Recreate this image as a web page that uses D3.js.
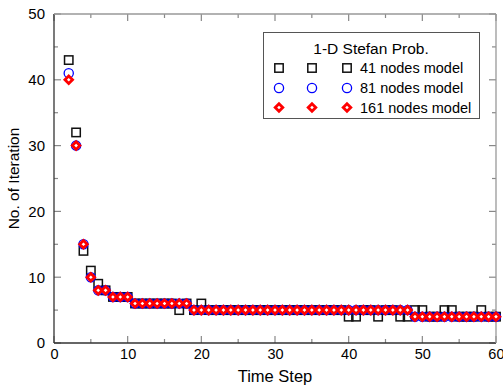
<!DOCTYPE html>
<html><head><meta charset="utf-8">
<script src="https://cdn.jsdelivr.net/npm/d3@7"></script>
<style>body{margin:0;background:#fff}svg{display:block}text{font-family:"Liberation Sans",Arial,sans-serif}</style>
</head><body><svg id="c" width="503" height="387"></svg>
<script>
const steps = [2,3,4,5,6,7,8,9,10,11,12,13,14,15,16,17,18,19,20,21,22,23,24,25,26,27,28,29,30,31,32,33,34,35,36,37,38,39,40,41,42,43,44,45,46,47,48,49,50,51,52,53,54,55,56,57,58,59,60];
const nodes41 = [43,32,14,11,9,8,7,7,7,6,6,6,6,6,6,5,6,5,6,5,5,5,5,5,5,5,5,5,5,5,5,5,5,5,5,5,5,5,4,4,5,5,4,5,5,4,4,5,5,4,4,5,5,4,4,4,5,4,4];
const nodes81 = [41,30,15,10,8,8,7,7,7,6,6,6,6,6,6,6,6,5,5,5,5,5,5,5,5,5,5,5,5,5,5,5,5,5,5,5,5,5,5,5,5,5,5,5,5,5,5,4,4,4,4,4,4,4,4,4,4,4,4];
const nodes161 = [40,30,15,10,8,8,7,7,7,6,6,6,6,6,6,6,6,5,5,5,5,5,5,5,5,5,5,5,5,5,5,5,5,5,5,5,5,5,5,5,5,5,5,5,5,5,5,4,4,4,4,4,4,4,4,4,4,4,4];
const xTicks = [0,10,20,30,40,50,60];
const yTicks = [0,10,20,30,40,50];
const legendTitle = "1-D Stefan Prob.";
const legendLabels = ["41 nodes model","81 nodes model","161 nodes model"];

const svg = d3.select("#c");
const L=54, R=496, T=14, B=343;
const x = d3.scaleLinear().domain([0,60]).range([L,R]);
const y = d3.scaleLinear().domain([0,50]).range([B,T]);

const gx = svg.append("g").attr("transform",`translate(0,${B})`)
  .call(d3.axisBottom(x).tickValues(xTicks).tickSize(0).tickPadding(6));
gx.select(".domain").remove();
gx.selectAll("text").attr("font-size",14.5).attr("fill","#000").attr("font-family","Liberation Sans, Arial, sans-serif");
gx.selectAll(".tick").filter(d=>d===60).select("text").attr("text-anchor","end").attr("dx",8);
const gy = svg.append("g").attr("transform",`translate(${L},0)`)
  .call(d3.axisLeft(y).tickValues(yTicks).tickSize(0).tickPadding(9));
gy.select(".domain").remove();
gy.selectAll("text").attr("font-size",15).attr("fill","#000").attr("font-family","Liberation Sans, Arial, sans-serif");

const tk = svg.append("g").attr("stroke","#888").attr("stroke-width",1.2);
x.ticks(12).forEach(v=>{
  const len = v%10===0?7:4;
  tk.append("line").attr("x1",x(v)).attr("x2",x(v)).attr("y1",B).attr("y2",B-len);
  tk.append("line").attr("x1",x(v)).attr("x2",x(v)).attr("y1",T).attr("y2",T+len);
});
y.ticks(10).forEach(v=>{
  const len = v%10===0?7:4;
  tk.append("line").attr("y1",y(v)).attr("y2",y(v)).attr("x1",L).attr("x2",L+len);
  tk.append("line").attr("y1",y(v)).attr("y2",y(v)).attr("x1",R).attr("x2",R-len);
});
svg.append("line").attr("x1",L).attr("x2",L).attr("y1",T).attr("y2",B).attr("stroke","#333").attr("stroke-width",1.3);
svg.append("line").attr("x1",L).attr("x2",R).attr("y1",B).attr("y2",B).attr("stroke","#333").attr("stroke-width",1.3);
svg.append("line").attr("x1",R).attr("x2",R).attr("y1",T).attr("y2",B).attr("stroke","#999").attr("stroke-width",1.3);
svg.append("line").attr("x1",L).attr("x2",R).attr("y1",T).attr("y2",T).attr("stroke","#999").attr("stroke-width",1.3);

svg.append("text").attr("x",(L+R)/2).attr("y",382).attr("text-anchor","middle").attr("font-size",16.5).text("Time Step");
svg.append("text").attr("transform",`translate(19,${(T+B)/2}) rotate(-90)`).attr("text-anchor","middle").attr("font-size",15.5).text("No. of Iteration");

function sq(g,cx,cy){g.append("rect").attr("x",cx-4.2).attr("y",cy-4.2).attr("width",8.4).attr("height",8.4).attr("fill","none").attr("stroke","#111").attr("stroke-width",1.5);}
function ci(g,cx,cy){g.append("circle").attr("cx",cx).attr("cy",cy).attr("r",4.6).attr("fill","none").attr("stroke","#0000ff").attr("stroke-width",1.3);}
function di(g,cx,cy){g.append("path").attr("d",`M${cx},${cy-3.8}L${cx+3.8},${cy}L${cx},${cy+3.8}L${cx-3.8},${cy}Z`).attr("fill","#fff").attr("stroke","#ff0000").attr("stroke-width",2.8);}

const g1=svg.append("g"), g2=svg.append("g"), g3=svg.append("g");
steps.forEach((t,i)=>{
  sq(g1,x(t),y(nodes41[i]));
  ci(g2,x(t),y(nodes81[i]));
  di(g3,x(t),y(nodes161[i]));
});

const lg = svg.append("g");
lg.append("rect").attr("x",263.5).attr("y",32.5).attr("width",216).attr("height",86).attr("fill","#fff").attr("stroke","#555").attr("stroke-width",1);
lg.append("text").attr("x",371).attr("y",54).attr("text-anchor","middle").attr("font-size",15.5).text(legendTitle);
const fns=[sq,ci,di];
const rowsY=[68,88,107.5];
legendLabels.forEach((lab,i)=>{
  [279,312,347].forEach(px=>fns[i](lg,px,rowsY[i]));
  lg.append("text").attr("x",360).attr("y",rowsY[i]+5).attr("font-size",14.5).text(lab);
});
</script></body></html>
